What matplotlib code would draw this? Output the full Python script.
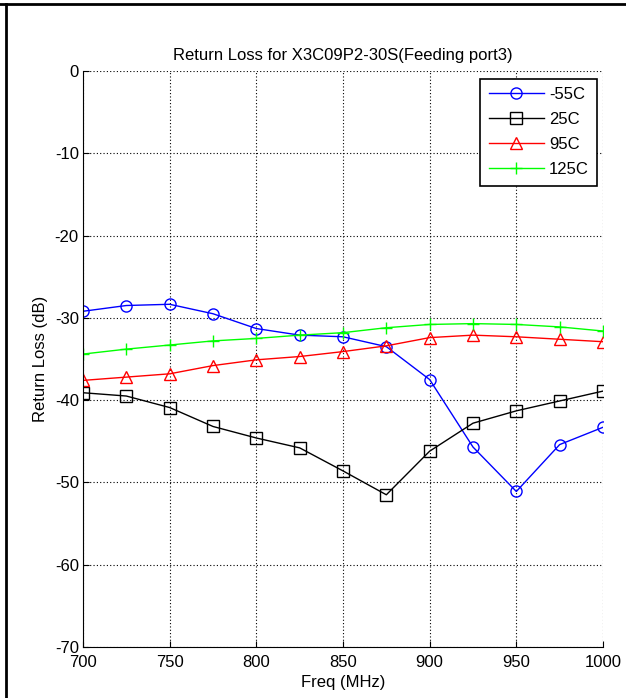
import numpy as np
import matplotlib
matplotlib.use("Agg")
import matplotlib.pyplot as plt
from matplotlib.lines import Line2D

plt.rcParams['font.family'] = ['Liberation Sans', 'DejaVu Sans']
plt.rcParams['axes.unicode_minus'] = False

# frequency points (MHz)
freq = [700, 725, 750, 775, 800, 825, 850, 875, 900, 925, 950, 975, 1000]

# return loss (dB) per temperature
rl_m55 = [-29.2, -28.5, -28.35, -29.5, -31.3, -32.1, -32.3, -33.5, -37.5, -45.7, -51.1, -45.4, -43.3]
rl_25 = [-39.1, -39.5, -40.9, -43.2, -44.6, -45.8, -48.6, -51.5, -46.2, -42.8, -41.3, -40.1, -38.9]
rl_95 = [-37.6, -37.2, -36.8, -35.8, -35.1, -34.7, -34.1, -33.4, -32.4, -32.1, -32.3, -32.6, -32.9]
rl_125 = [-34.4, -33.8, -33.3, -32.8, -32.5, -32.1, -31.8, -31.2, -30.8, -30.7, -30.8, -31.1, -31.6]

labels = ['-55C', '25C', '95C', '125C']
xticks = [700, 750, 800, 850, 900, 950, 1000]
yticks = [0, -10, -20, -30, -40, -50, -60, -70]

W, H = 626, 698
fs = 12
fig = plt.figure(figsize=(W / 100, H / 100), dpi=100)
ax = fig.add_axes([83 / W, 1 - 647 / H, 520 / W, 576 / H])

ms = 8
ax.plot(freq, rl_m55, '-o', color='#0000ff', mfc='none', ms=ms, lw=1, label=labels[0])
ax.plot(freq, rl_25, '-s', color='black', mfc='none', ms=ms, lw=1, label=labels[1])
ax.plot(freq, rl_95, '-^', color='#ff0000', mfc='none', ms=ms + 0.5, lw=1, label=labels[2])
ax.plot(freq, rl_125, '-+', color='#00ff00', mfc='none', ms=ms + 1, lw=1, label=labels[3])

ax.set_xlim(700, 1000)
ax.set_ylim(-70, 0)
ax.set_xticks(xticks)
ax.set_yticks(yticks)
ax.grid(True, color='black', linestyle=(0, (1, 2)), linewidth=0.8)
ax.spines['top'].set_visible(False)
ax.spines['right'].set_visible(False)
ax.tick_params(direction='in', length=4, labelsize=fs, top=False, right=False)
ax.tick_params(axis='y', pad=3)
ax.tick_params(axis='x', pad=6)

ax.set_title('Return Loss for X3C09P2-30S(Feeding port3)', fontsize=fs, pad=8)
ax.set_xlabel('Freq (MHz)', fontsize=fs, labelpad=3)
ax.set_ylabel('Return Loss (dB)', fontsize=fs, labelpad=5)

leg = ax.legend(loc='upper right', bbox_to_anchor=(597 / W, 1 - 79 / H),
                bbox_transform=fig.transFigure, fontsize=fs, fancybox=False,
                framealpha=1, edgecolor='black', borderpad=0.5, borderaxespad=0,
                handlelength=3.3, handletextpad=0.3, labelspacing=0.6)
leg.get_frame().set_linewidth(1.2)

# figure border (top and left edges)
fig.add_artist(Line2D([0, 1], [1 - 4 / H, 1 - 4 / H], transform=fig.transFigure, color='black', lw=2))
fig.add_artist(Line2D([6 / W, 6 / W], [0, 1 - 4 / H], transform=fig.transFigure, color='black', lw=2))

fig.savefig('out.png', dpi=100)
